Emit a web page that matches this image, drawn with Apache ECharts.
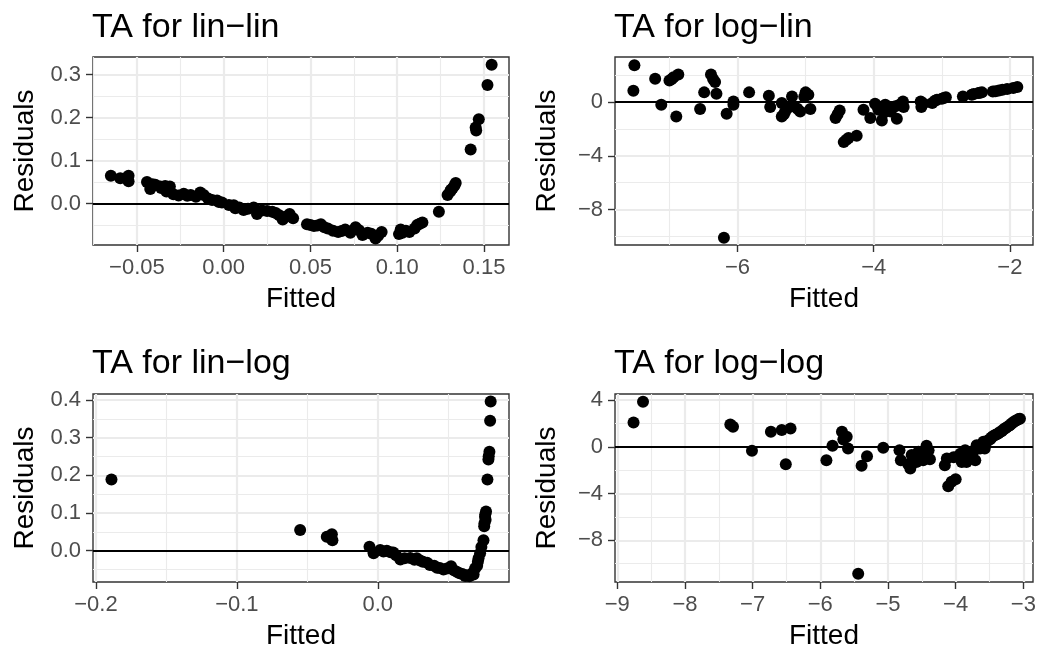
<!DOCTYPE html>
<html><head><meta charset="utf-8">
<script src="https://cdn.jsdelivr.net/npm/echarts@6/dist/echarts.min.js"></script>
<style>html,body{margin:0;padding:0;background:#fff}#c{width:1039px;height:651px}</style>
</head><body><div id="c"></div><script>
// ---------- data ----------
const panelTitles = ['TA for lin\u2212lin', 'TA for log\u2212lin', 'TA for lin\u2212log', 'TA for log\u2212log'];
const xName = 'Fitted';
const yName = 'Residuals';

const linlinX = [-0.065,-0.0596,-0.0548,-0.0548,-0.056,-0.0442,-0.0423,-0.041,-0.0394,-0.0365,-0.036,-0.0337,-0.031,-0.033,-0.029,-0.026,-0.023,-0.021,-0.019,-0.016,-0.0135,-0.0115,-0.009,-0.0067,-0.0038,-0.003,-0.001,0.003,0.0058,0.0067,0.009,0.0115,0.014,0.0173,0.0192,0.022,0.025,0.028,0.030,0.032,0.034,0.036,0.038,0.040,0.048,0.050,0.052,0.054,0.056,0.058,0.060,0.063,0.066,0.068,0.070,0.073,0.076,0.078,0.080,0.083,0.085,0.0875,0.089,0.091,0.101,0.102,0.103,0.105,0.107,0.110,0.1115,0.113,0.1145,0.124,0.129,0.1305,0.131,0.132,0.133,0.1337,0.1423,0.1452,0.1455,0.147,0.152,0.1544];
const linlinY = [0.0648,0.059,0.065,0.052,0.060,0.050,0.034,0.045,0.044,0.040,0.036,0.041,0.040,0.028,0.022,0.019,0.023,0.018,0.020,0.016,0.026,0.020,0.012,0.0086,0.007,0.004,0.0023,-0.003,-0.004,-0.011,-0.009,-0.015,-0.012,-0.009,-0.024,-0.016,-0.017,-0.019,-0.022,-0.027,-0.037,-0.030,-0.024,-0.034,-0.048,-0.050,-0.052,-0.051,-0.048,-0.055,-0.058,-0.063,-0.066,-0.064,-0.060,-0.068,-0.055,-0.062,-0.073,-0.068,-0.070,-0.081,-0.075,-0.066,-0.071,-0.060,-0.068,-0.063,-0.066,-0.058,-0.050,-0.047,-0.044,-0.019,0.020,0.028,0.032,0.036,0.042,0.048,0.126,0.177,0.170,0.196,0.276,0.323];

const loglinX = [-7.515,-7.53,-7.21,-7.12,-7.0,-6.97,-6.94,-6.87,-6.90,-6.55,-6.49,-6.39,-6.36,-6.33,-6.31,-6.20,-6.16,-6.06,-6.06,-5.83,-5.54,-5.52,-5.35,-5.35,-5.32,-5.30,-5.25,-5.20,-5.18,-5.12,-5.08,-5.02,-5.0,-4.96,-4.93,-4.56,-4.53,-4.50,-4.44,-4.40,-4.37,-4.25,-4.15,-4.05,-3.98,-3.95,-3.93,-3.88,-3.85,-3.83,-3.75,-3.68,-3.66,-3.62,-3.57,-3.56,-3.31,-3.30,-3.27,-3.14,-3.10,-3.07,-3.0,-2.97,-2.94,-2.69,-2.56,-2.53,-2.46,-2.44,-2.41,-2.25,-2.21,-2.16,-2.11,-2.04,-1.95,-1.89];
const loglinY = [2.73,0.84,1.74,-0.2,1.61,1.70,1.84,2.04,-1.07,-0.52,0.72,2.04,1.71,1.49,0.62,-10.09,-0.87,0.05,-0.2,0.72,0.47,-0.37,-0.07,-1.07,-0.9,-0.7,-0.4,0.42,-0.32,-0.5,-0.7,0.4,0.72,0.55,-0.52,-1.19,-0.9,-0.62,-2.98,-2.8,-2.68,-2.51,-0.57,-1.19,-0.12,-0.3,-0.57,-1.37,-0.8,-0.2,-0.7,-0.32,-1.24,-0.2,0.05,-0.37,0.05,-0.37,-0.1,-0.07,0.1,0.17,0.25,0.3,0.35,0.42,0.55,0.6,0.67,0.7,0.72,0.78,0.8,0.85,0.92,0.97,1.05,1.12];

const linlogX = [-0.189,-0.0551,-0.0362,-0.0326,-0.0322,-0.0059,-0.003,0.0017,0.004,0.0064,0.009,0.011,0.013,0.016,0.019,0.023,0.026,0.0277,0.030,0.032,0.035,0.037,0.040,0.042,0.044,0.0466,0.049,0.052,0.054,0.056,0.058,0.060,0.062,0.063,0.065,0.067,0.068,0.069,0.0705,0.071,0.0715,0.0726,0.0735,0.075,0.0755,0.0757,0.0761,0.0763,0.0765,0.0768,0.0778,0.0785,0.0787,0.0792,0.0797,0.0801];
const linlogY = [0.189,0.055,0.037,0.044,0.028,0.0106,-0.007,0.002,-0.002,0,-0.004,-0.005,-0.012,-0.023,-0.020,-0.019,-0.024,-0.020,-0.026,-0.029,-0.032,-0.038,-0.040,-0.045,-0.046,-0.050,-0.047,-0.041,-0.052,-0.056,-0.060,-0.062,-0.067,-0.065,-0.068,-0.060,-0.063,-0.047,-0.040,-0.029,-0.020,-0.007,0.010,0.028,0.065,0.073,0.090,0.097,0.082,0.104,0.189,0.242,0.251,0.263,0.345,0.396];

const loglogX = [-8.76,-8.62,-7.33,-7.29,-7.01,-6.73,-6.57,-6.51,-6.44,-5.91,-5.82,-5.68,-5.66,-5.61,-5.59,-5.44,-5.39,-5.31,-5.07,-4.83,-4.81,-4.70,-4.67,-4.65,-4.62,-4.58,-4.55,-4.52,-4.48,-4.45,-4.43,-4.40,-4.38,-4.16,-4.13,-4.11,-4.06,-4.03,-4.0,-3.96,-3.93,-3.91,-3.88,-3.86,-3.84,-3.81,-3.79,-3.76,-3.74,-3.71,-3.69,-3.66,-3.64,-3.62,-3.59,-3.57,-3.55,-3.52,-3.49,-3.47,-3.45,-3.42,-3.40,-3.37,-3.35,-3.32,-3.30,-3.27,-3.25,-3.22,-3.20,-3.17,-3.15,-3.12,-3.10,-3.07,-3.05];
const loglogY = [2.09,3.86,1.91,1.71,-0.34,1.29,1.43,-1.49,1.57,-1.14,0.09,1.29,0.63,0.86,-0.14,-10.86,-1.63,-0.8,-0.09,-0.29,-1.14,-1.5,-1.86,-0.71,-1.0,-1.29,-0.43,-0.8,-1.14,-0.6,0.09,-0.29,-1.06,-1.57,-1.0,-3.37,-3.0,-0.9,-2.77,-0.8,-0.6,-1.29,-1.1,-0.29,-1.29,-0.5,-0.86,-0.9,-0.43,-1.14,0.14,-0.05,-0.14,0.2,0.43,-0.14,0.35,0.57,0.65,0.8,0.9,1.0,1.05,1.14,1.25,1.34,1.45,1.57,1.65,1.77,1.85,2.0,2.1,2.2,2.28,2.37,2.4];

// axis extents and tick values
const xMin = [-0.0753, -7.80, -0.2021, -9.034];
const xMax = [0.1644, -1.66, 0.0931, -2.857];
const yMin = [-0.0963, -10.63, -0.083, -11.57];
const yMax = [0.341, 3.35, 0.416, 4.52];
const xMajor = [[-0.05,0,0.05,0.1,0.15], [-6,-4,-2], [-0.2,-0.1,0], [-9,-8,-7,-6,-5,-4,-3]];
const xMinor = [[-0.075,-0.025,0.025,0.075,0.125], [-7,-5,-3], [-0.15,-0.05,0.05], [-8.5,-7.5,-6.5,-5.5,-4.5,-3.5]];
const yMajor = [[0,0.1,0.2,0.3], [-8,-4,0], [0,0.1,0.2,0.3,0.4], [-8,-4,0,4]];
const yMinor = [[-0.05,0.05,0.15,0.25], [-10,-6,-2,2], [-0.05,0.05,0.15,0.25,0.35], [-10,-6,-2,2]];
const xDecimals = [2, 0, 1, 0];
const yDecimals = [1, 0, 1, 0];

const xs = [linlinX, loglinX, linlogX, loglogX];
const ys = [linlinY, loglinY, linlogY, loglogY];

// ---------- layout / style ----------
const FONT = 'Liberation Sans, Arial, Helvetica, sans-serif';
const grids = [
  {left: 93, top: 57, width: 416, height: 188},
  {left: 615, top: 57, width: 418, height: 188},
  {left: 93, top: 394, width: 416, height: 188},
  {left: 615, top: 394, width: 418, height: 188}
];
const titleTops = [11, 11, 347, 347];

function fmt(v, d) {
  let s = Math.abs(v) < 1e-12 ? (0).toFixed(d) : v.toFixed(d);
  return s.replace('-', '\u2212');
}

const option = {
  animation: false,
  backgroundColor: '#ffffff',
  textStyle: {fontFamily: FONT},
  title: panelTitles.map((t, i) => ({
    text: t, left: grids[i].left - 1, top: titleTops[i], padding: 0,
    textStyle: {fontFamily: FONT, fontSize: 34, fontWeight: 'normal', color: '#000'}
  })),
  grid: grids.map(g => Object.assign({show: true, borderColor: '#333333', borderWidth: 1.4, backgroundColor: '#fff', containLabel: false}, g)),
  xAxis: [],
  yAxis: [],
  series: []
};

for (let i = 0; i < 4; i++) {
  // major x axis
  option.xAxis.push({
    type: 'value', gridIndex: i, min: xMin[i], max: xMax[i], position: 'bottom',
    name: xName, nameLocation: 'middle', nameGap: 40,
    nameTextStyle: {fontFamily: FONT, fontSize: 28, color: '#000'},
    axisLine: {show: false, onZero: false},
    axisTick: {show: true, length: 7, customValues: xMajor[i], lineStyle: {color: '#333333', width: 1.4}},
    axisLabel: {show: true, margin: 12, customValues: xMajor[i], fontFamily: FONT, fontSize: 22, color: '#4d4d4d',
      formatter: (v) => fmt(v, xDecimals[i])},
    splitLine: {show: true, lineStyle: {color: '#ebebeb', width: 2.2}}
  });
  // minor x axis (grid lines only)
  option.xAxis.push({
    type: 'value', gridIndex: i, min: xMin[i], max: xMax[i], position: 'bottom',
    axisLine: {show: false, onZero: false},
    axisTick: {show: false, customValues: xMinor[i]},
    axisLabel: {show: false},
    splitLine: {show: true, lineStyle: {color: '#ebebeb', width: 1.1}}
  });
  // major y axis
  option.yAxis.push({
    type: 'value', gridIndex: i, min: yMin[i], max: yMax[i], position: 'left',
    name: yName, nameLocation: 'middle', nameGap: 54, nameRotate: 90,
    nameTextStyle: {fontFamily: FONT, fontSize: 28, color: '#000'},
    axisLine: {show: false, onZero: false},
    axisTick: {show: true, length: 7, customValues: yMajor[i], lineStyle: {color: '#333333', width: 1.4}},
    axisLabel: {show: true, margin: 12, customValues: yMajor[i], fontFamily: FONT, fontSize: 22, color: '#4d4d4d',
      formatter: (v) => fmt(v, yDecimals[i])},
    splitLine: {show: true, lineStyle: {color: '#ebebeb', width: 2.2}}
  });
  // minor y axis
  option.yAxis.push({
    type: 'value', gridIndex: i, min: yMin[i], max: yMax[i], position: 'left',
    axisLine: {show: false, onZero: false},
    axisTick: {show: false, customValues: yMinor[i]},
    axisLabel: {show: false},
    splitLine: {show: true, lineStyle: {color: '#ebebeb', width: 1.1}}
  });

  option.series.push({
    type: 'scatter', xAxisIndex: 2 * i, yAxisIndex: 2 * i,
    data: xs[i].map((x, k) => [x, ys[i][k]]),
    symbol: 'circle', symbolSize: 12,
    itemStyle: {color: '#000000', opacity: 1},
    silent: true,
    markLine: {
      silent: true, symbol: ['none', 'none'], label: {show: false},
      lineStyle: {color: '#000000', width: 2, type: 'solid'},
      emphasis: {disabled: true},
      data: [{yAxis: 0}],
      z: 3
    }
  });
}

const chart = echarts.init(document.getElementById('c'), null, {renderer: 'canvas'});
chart.setOption(option);
</script></body></html>
